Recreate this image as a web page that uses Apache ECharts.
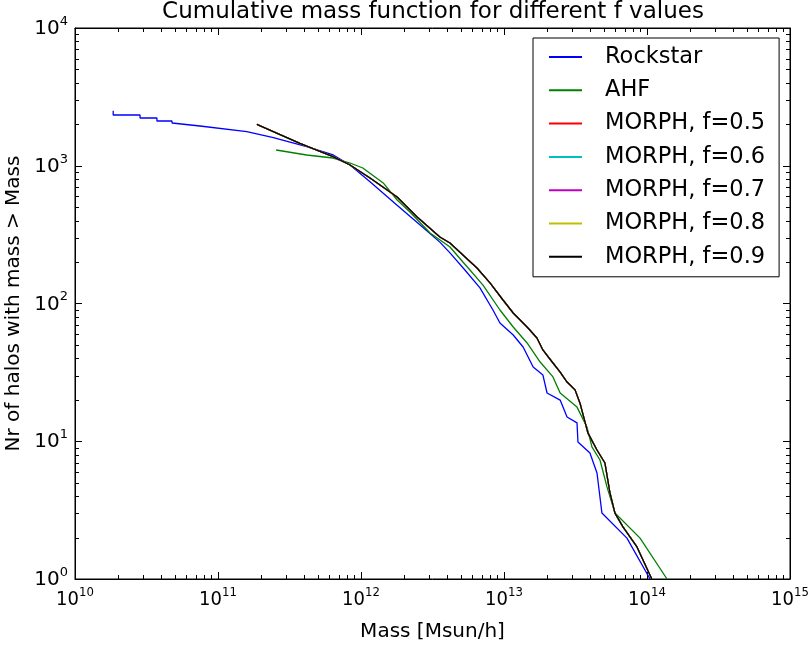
<!DOCTYPE html>
<html><head><meta charset="utf-8">
<script src="https://cdn.jsdelivr.net/npm/echarts@6/dist/echarts.min.js"></script>
<style>html,body{margin:0;padding:0;background:#fff}#c{width:811px;height:645px}</style>
</head><body><div id="c"></div>
<script>
// ---- data ----
const rockstarMass = [1.85e10, 1.85e10, 2.85e10, 2.85e10, 3.74e10, 3.74e10, 4.77e10, 4.77e10, 7.48e10, 1.59e11, 2.44e11, 4.17e11, 6.40e11, 8.38e11, 1.156e12, 1.78e12, 2.45e12, 3.56e12, 4.19e12, 5.33e12, 6.79e12, 8.37e12, 9.37e12, 1.16e13, 1.36e13, 1.60e13, 1.87e13, 2.00e13, 2.47e13, 2.76e13, 3.24e13, 3.29e13, 3.99e13, 4.47e13, 4.84e13, 7.24e13, 1.05e14];
const rockstarN = [2510, 2335, 2335, 2222, 2222, 2113, 2113, 2043, 1944, 1767, 1600, 1375, 1197, 1012, 766, 519, 391, 279, 233, 175, 130, 89.7, 72.2, 59.1, 48.3, 34.6, 30.3, 22.4, 19.9, 15.0, 13.6, 9.88, 8.22, 5.88, 3.01, 1.98, 1];

const ahfMass = [2.55e11, 4.17e11, 6.37e11, 8.38e11, 1.03e12, 1.43e12, 1.79e12, 2.20e12, 3.04e12, 4.19e12, 5.16e12, 5.78e12, 7.13e12, 9.37e12, 1.16e13, 1.45e13, 1.79e13, 2.20e13, 2.47e13, 3.24e13, 3.80e13, 4.12e13, 4.69e13, 5.25e13, 5.97e13, 8.94e13, 1.38e14];
const ahfN = [1301, 1197, 1138, 1047, 963, 750, 564, 462, 325, 257, 200, 175, 136, 89.7, 67.5, 51.7, 37.6, 29.3, 22.4, 17.7, 12.7, 9.09, 7.31, 4.66, 3.01, 1.98, 1];

// MORPH curves for f = 0.5 ... 0.9 overlap each other in the picture
const morphMass = [1.87e11, 3.74e11, 6.37e11, 8.38e11, 1.156e12, 1.79e12, 2.47e12, 3.56e12, 4.19e12, 5.16e12, 6.47e12, 7.98e12, 9.84e12, 1.16e13, 1.45e13, 1.70e13, 1.87e13, 2.20e13, 2.47e13, 2.76e13, 3.14e13, 3.40e13, 3.86e13, 4.47e13, 5.08e13, 5.51e13, 5.97e13, 6.79e13, 8.51e13, 1.08e14];
const morphN = [2000, 1455, 1164, 1012, 815, 593, 425, 304, 275, 225, 181, 141, 106, 85.3, 67.5, 56.2, 46.0, 37.0, 31.8, 26.9, 23.6, 18.9, 11.5, 8.64, 6.95, 4.21, 3.01, 2.39, 1.71, 1];

const seriesNames = ['Rockstar', 'AHF', 'MORPH, f=0.5', 'MORPH, f=0.6', 'MORPH, f=0.7', 'MORPH, f=0.8', 'MORPH, f=0.9'];
const seriesColors = ['#0000ff', '#008000', '#ff0000', '#00bfbf', '#bf00bf', '#bfbf00', '#000000'];

const xMin = 1e10, xMax = 1e15, yMin = 1, yMax = 1e4;
const minorMultipliers = [2, 3, 4, 5, 6, 7, 8, 9];
const xDecades = [1e10, 1e11, 1e12, 1e13, 1e14];
const yDecades = [1, 10, 100, 1000];

// ---- helpers ----
const FONT = 'DejaVu Sans';
const XFONT = '"Liberation Sans Narrow", "DejaVu Sans Condensed", "DejaVu Sans"';
const pairs = (m, n) => m.map((v, i) => [v, n[i]]);
const supLabel = v => '{b|10}{s|' + Math.round(Math.log10(v)) + '}';
const richFor = fam => ({
  b: { fontFamily: fam, fontSize: 20, lineHeight: 22, verticalAlign: 'bottom', color: '#000' },
  s: { fontFamily: fam, fontSize: 13, lineHeight: 13, verticalAlign: 'bottom', padding: [0, 0, 11, 0], color: '#000' }
});
const xMinorVals = [];
xDecades.forEach(d => minorMultipliers.forEach(k => xMinorVals.push([d * k, yMin])));
const yMinorVals = [];
yDecades.forEach(d => minorMultipliers.forEach(k => yMinorVals.push([xMin, d * k])));

const tickStyle = { stroke: '#000', lineWidth: 1 };
const crisp = v => Math.round(v) + 0.5;

const lineSeries = [
  { name: seriesNames[0], m: rockstarMass, n: rockstarN },
  { name: seriesNames[1], m: ahfMass, n: ahfN },
  { name: seriesNames[2], m: morphMass, n: morphN },
  { name: seriesNames[3], m: morphMass, n: morphN },
  { name: seriesNames[4], m: morphMass, n: morphN },
  { name: seriesNames[5], m: morphMass, n: morphN },
  { name: seriesNames[6], m: morphMass, n: morphN }
].map((s, i) => ({
  name: s.name, type: 'line', xAxisIndex: 0, yAxisIndex: 0,
  data: pairs(s.m, s.n), showSymbol: false, symbol: 'none',
  lineStyle: { color: seriesColors[i], width: 1.3 }, itemStyle: { color: seriesColors[i] },
  z: 2 + i * 0.01, animation: false
}));

const axisBase = {
  type: 'log', logBase: 10,
  axisLine: { show: true, lineStyle: { color: '#000', width: 1 } },
  axisTick: { show: true, inside: true, length: 7, lineStyle: { color: '#000', width: 1 } },
  splitLine: { show: false }
};

const option = {
  animation: false,
  backgroundColor: '#fff',
  title: {
    text: 'Cumulative mass function for different f values',
    left: 433, textAlign: 'center', top: 1, padding: 0,
    textStyle: { fontFamily: FONT, fontSize: 23, fontWeight: 'normal', color: '#000' }
  },
  grid: { left: 75, right: 21, top: 28, bottom: 66, containLabel: false, outerBoundsMode: 'none',
          show: true, borderColor: '#000', borderWidth: 1, backgroundColor: 'transparent' },
  legend: {
    data: seriesNames, orient: 'vertical', left: 533, top: 38,
    padding: [7, 14, 8, 16], itemGap: 9.3, itemWidth: 33, itemHeight: 2, icon: 'rect',
    borderColor: '#000', borderWidth: 1, backgroundColor: '#fff',
    textStyle: { fontFamily: FONT, fontSize: 22.5, color: '#000', lineHeight: 24, padding: [0, 0, 0, 18] }
  },
  xAxis: [
    Object.assign({}, axisBase, {
      position: 'bottom', min: xMin, max: xMax, splitNumber: 5,
      axisLabel: { formatter: supLabel, margin: 9, rich: richFor(XFONT), showMinLabel: true, showMaxLabel: true, hideOverlap: false },
      name: 'Mass [Msun/h]', nameLocation: 'middle', nameGap: 43,
      nameTextStyle: { fontFamily: FONT, fontSize: 20, color: '#000' }
    }),
    Object.assign({}, axisBase, {
      position: 'top', min: xMin, max: xMax, splitNumber: 5, axisLabel: { show: false }
    })
  ],
  yAxis: [
    Object.assign({}, axisBase, {
      position: 'left', min: yMin, max: yMax, splitNumber: 4,
      axisLabel: { formatter: supLabel, margin: 7, rich: richFor(FONT), showMinLabel: true, showMaxLabel: true, hideOverlap: false },
      name: 'Nr of halos with mass > Mass', nameLocation: 'middle', nameGap: 37,
      nameTextStyle: { fontFamily: FONT, fontSize: 20, color: '#000' }
    }),
    Object.assign({}, axisBase, {
      position: 'right', min: yMin, max: yMax, splitNumber: 4, axisLabel: { show: false }
    })
  ],
  series: lineSeries.concat([
    {
      type: 'custom', name: 'xminor', xAxisIndex: 0, yAxisIndex: 0, silent: true, z: 5, clip: false,
      data: xMinorVals,
      renderItem: (params, api) => {
        const v = api.value(0);
        const pb = api.coord([v, yMin]);
        const pt = api.coord([v, yMax]);
        const x = crisp(pb[0]);
        return { type: 'group', children: [
          { type: 'line', shape: { x1: x, y1: pb[1], x2: x, y2: pb[1] - 4 }, style: tickStyle },
          { type: 'line', shape: { x1: x, y1: pt[1], x2: x, y2: pt[1] + 4 }, style: tickStyle }
        ] };
      }
    },
    {
      type: 'custom', name: 'yminor', xAxisIndex: 0, yAxisIndex: 0, silent: true, z: 5, clip: false,
      data: yMinorVals,
      renderItem: (params, api) => {
        const v = api.value(1);
        const pl = api.coord([xMin, v]);
        const pr = api.coord([xMax, v]);
        const y = crisp(pl[1]);
        return { type: 'group', children: [
          { type: 'line', shape: { x1: pl[0], y1: y, x2: pl[0] + 4, y2: y }, style: tickStyle },
          { type: 'line', shape: { x1: pr[0], y1: y, x2: pr[0] - 4, y2: y }, style: tickStyle }
        ] };
      }
    }
  ])
};

const chart = echarts.init(document.getElementById('c'), null, { renderer: 'canvas' });
chart.setOption(option);
</script>
</body></html>
